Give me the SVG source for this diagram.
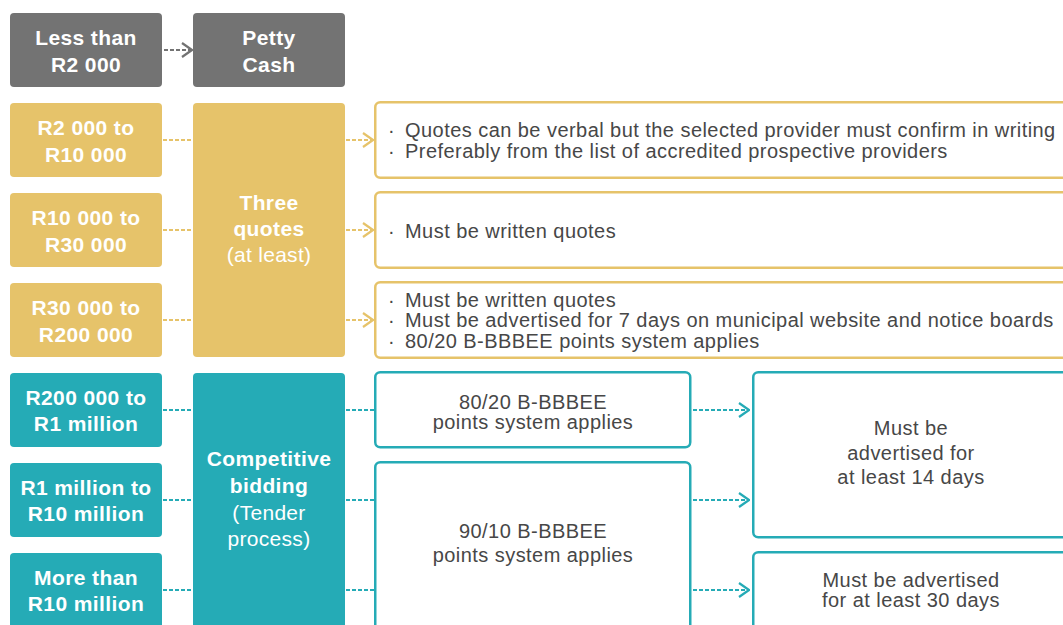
<svg xmlns="http://www.w3.org/2000/svg" width="1063" height="625" viewBox="0 0 1063 625">
  <style>
    .lbl { font-family: "Liberation Sans", Arial, sans-serif; font-weight: bold; font-size: 21px; letter-spacing: 0.4px; fill: #ffffff; text-anchor: middle; }
    .sub { font-family: "Liberation Sans", Arial, sans-serif; font-weight: normal; font-size: 21px; letter-spacing: 0.3px; fill: #ffffff; text-anchor: middle; }
    .txt { font-family: "Liberation Sans", Arial, sans-serif; font-size: 20px; letter-spacing: 0.45px; fill: #474747; }
    .ctr { text-anchor: middle; }
    .gray { fill: #737373; }
    .gold { fill: #E6C36A; }
    .teal { fill: #25ABB6; }
    .goldbox { fill: #ffffff; stroke: #E6C36A; stroke-width: 2.5; }
    .tealbox { fill: #ffffff; stroke: #25ABB6; stroke-width: 2.5; }
    .dash { fill: none; stroke-width: 2; stroke-dasharray: 4 2; }
    .dg { stroke: #737373; }
    .dy { stroke: #E6C36A; }
    .dt { stroke: #25ABB6; }
  </style>
  <defs>
    <marker id="chev-gray" viewBox="0 0 12 16" refX="11" refY="8" markerWidth="12" markerHeight="16" markerUnits="userSpaceOnUse" orient="auto">
      <path d="M1,1 L11,8 L1,15" fill="none" stroke="#737373" stroke-width="2.2"/>
    </marker>
    <marker id="chev-gold" viewBox="0 0 12 16" refX="11" refY="8" markerWidth="12" markerHeight="16" markerUnits="userSpaceOnUse" orient="auto">
      <path d="M1,1 L11,8 L1,15" fill="none" stroke="#E6C36A" stroke-width="2.2"/>
    </marker>
    <marker id="chev-teal" viewBox="0 0 12 16" refX="11" refY="8" markerWidth="12" markerHeight="16" markerUnits="userSpaceOnUse" orient="auto">
      <path d="M1,1 L11,8 L1,15" fill="none" stroke="#25ABB6" stroke-width="2.2"/>
    </marker>
  </defs>

  <!-- connectors -->
  <g id="connectors">
    <line class="dash dg" x1="164" y1="50" x2="192" y2="50" marker-end="url(#chev-gray)"/>

    <line class="dash dy" x1="163" y1="140" x2="193" y2="140"/>
    <line class="dash dy" x1="163" y1="230" x2="193" y2="230"/>
    <line class="dash dy" x1="163" y1="320" x2="193" y2="320"/>
    <line class="dash dy" x1="346" y1="140" x2="373" y2="140" marker-end="url(#chev-gold)"/>
    <line class="dash dy" x1="346" y1="230" x2="373" y2="230" marker-end="url(#chev-gold)"/>
    <line class="dash dy" x1="346" y1="320" x2="373" y2="320" marker-end="url(#chev-gold)"/>

    <line class="dash dt" x1="163" y1="410" x2="193" y2="410"/>
    <line class="dash dt" x1="163" y1="500" x2="193" y2="500"/>
    <line class="dash dt" x1="163" y1="590" x2="193" y2="590"/>
    <line class="dash dt" x1="346" y1="410" x2="375" y2="410"/>
    <line class="dash dt" x1="346" y1="500" x2="375" y2="500"/>
    <line class="dash dt" x1="346" y1="590" x2="375" y2="590"/>
    <line class="dash dt" x1="693" y1="410" x2="749" y2="410" marker-end="url(#chev-teal)"/>
    <line class="dash dt" x1="693" y1="500" x2="749" y2="500" marker-end="url(#chev-teal)"/>
    <line class="dash dt" x1="693" y1="590" x2="749" y2="590" marker-end="url(#chev-teal)"/>
  </g>

  <!-- petty cash tier -->
  <g id="less-than-r2000">
    <rect class="gray" x="10" y="13" width="152" height="74" rx="4"/>
    <text class="lbl" x="86" y="45">Less than</text>
    <text class="lbl" x="86" y="72">R2 000</text>
  </g>
  <g id="petty-cash">
    <rect class="gray" x="193" y="13" width="152" height="74" rx="4"/>
    <text class="lbl" x="269" y="45">Petty</text>
    <text class="lbl" x="269" y="72">Cash</text>
  </g>

  <!-- quotation tier -->
  <g id="r2000-r10000">
    <rect class="gold" x="10" y="103" width="152" height="74" rx="4"/>
    <text class="lbl" x="86" y="135">R2 000 to</text>
    <text class="lbl" x="86" y="162">R10 000</text>
  </g>
  <g id="r10000-r30000">
    <rect class="gold" x="10" y="193" width="152" height="74" rx="4"/>
    <text class="lbl" x="86" y="225">R10 000 to</text>
    <text class="lbl" x="86" y="252">R30 000</text>
  </g>
  <g id="r30000-r200000">
    <rect class="gold" x="10" y="283" width="152" height="74" rx="4"/>
    <text class="lbl" x="86" y="315">R30 000 to</text>
    <text class="lbl" x="86" y="342">R200 000</text>
  </g>
  <g id="three-quotes">
    <rect class="gold" x="193" y="103" width="152" height="254" rx="4"/>
    <text class="lbl" x="269" y="210">Three</text>
    <text class="lbl" x="269" y="236">quotes</text>
    <text class="sub" x="269" y="262">(at least)</text>
  </g>
  <g id="rules-r2000-r10000">
    <rect class="goldbox" x="375.25" y="102.25" width="700" height="75.5" rx="5"/>
    <text class="txt" x="388" y="137">·</text>
    <text class="txt" x="405" y="137">Quotes can be verbal but the selected provider must confirm in writing</text>
    <text class="txt" x="388" y="158">·</text>
    <text class="txt" x="405" y="158">Preferably from the list of accredited prospective providers</text>
  </g>
  <g id="rules-r10000-r30000">
    <rect class="goldbox" x="375.25" y="192.25" width="700" height="75.5" rx="5"/>
    <text class="txt" x="388" y="238">·</text>
    <text class="txt" x="405" y="238">Must be written quotes</text>
  </g>
  <g id="rules-r30000-r200000">
    <rect class="goldbox" x="375.25" y="282.25" width="700" height="75.5" rx="5"/>
    <text class="txt" x="388" y="307">·</text>
    <text class="txt" x="405" y="307">Must be written quotes</text>
    <text class="txt" x="388" y="327">·</text>
    <text class="txt" x="405" y="327">Must be advertised for 7 days on municipal website and notice boards</text>
    <text class="txt" x="388" y="348">·</text>
    <text class="txt" x="405" y="348">80/20 B-BBBEE points system applies</text>
  </g>

  <!-- tender tier -->
  <g id="r200000-r1m">
    <rect class="teal" x="10" y="373" width="152" height="74" rx="4"/>
    <text class="lbl" x="86" y="405">R200 000 to</text>
    <text class="lbl" x="86" y="431">R1 million</text>
  </g>
  <g id="r1m-r10m">
    <rect class="teal" x="10" y="463" width="152" height="74" rx="4"/>
    <text class="lbl" x="86" y="495">R1 million to</text>
    <text class="lbl" x="86" y="521">R10 million</text>
  </g>
  <g id="more-than-r10m">
    <rect class="teal" x="10" y="553" width="152" height="90" rx="4"/>
    <text class="lbl" x="86" y="585">More than</text>
    <text class="lbl" x="86" y="611">R10 million</text>
  </g>
  <g id="competitive-bidding">
    <rect class="teal" x="193" y="373" width="152" height="270" rx="4"/>
    <text class="lbl" x="269" y="466">Competitive</text>
    <text class="lbl" x="269" y="493">bidding</text>
    <text class="sub" x="269" y="520">(Tender</text>
    <text class="sub" x="269" y="546">process)</text>
  </g>
  <g id="points-80-20">
    <rect class="tealbox" x="375.25" y="372.25" width="315" height="75" rx="5"/>
    <text class="txt ctr" x="533" y="409">80/20 B-BBBEE</text>
    <text class="txt ctr" x="533" y="429">points system applies</text>
  </g>
  <g id="points-90-10">
    <rect class="tealbox" x="375.25" y="462.25" width="315" height="180" rx="5"/>
    <text class="txt ctr" x="533" y="538">90/10 B-BBBEE</text>
    <text class="txt ctr" x="533" y="562">points system applies</text>
  </g>
  <g id="advertise-14-days">
    <rect class="tealbox" x="753.25" y="372.25" width="330" height="165" rx="5"/>
    <text class="txt ctr" x="911" y="435">Must be</text>
    <text class="txt ctr" x="911" y="460">advertised for</text>
    <text class="txt ctr" x="911" y="484">at least 14 days</text>
  </g>
  <g id="advertise-30-days">
    <rect class="tealbox" x="753.25" y="552.25" width="330" height="90" rx="5"/>
    <text class="txt ctr" x="911" y="587">Must be advertised</text>
    <text class="txt ctr" x="911" y="607">for at least 30 days</text>
  </g>
</svg>
